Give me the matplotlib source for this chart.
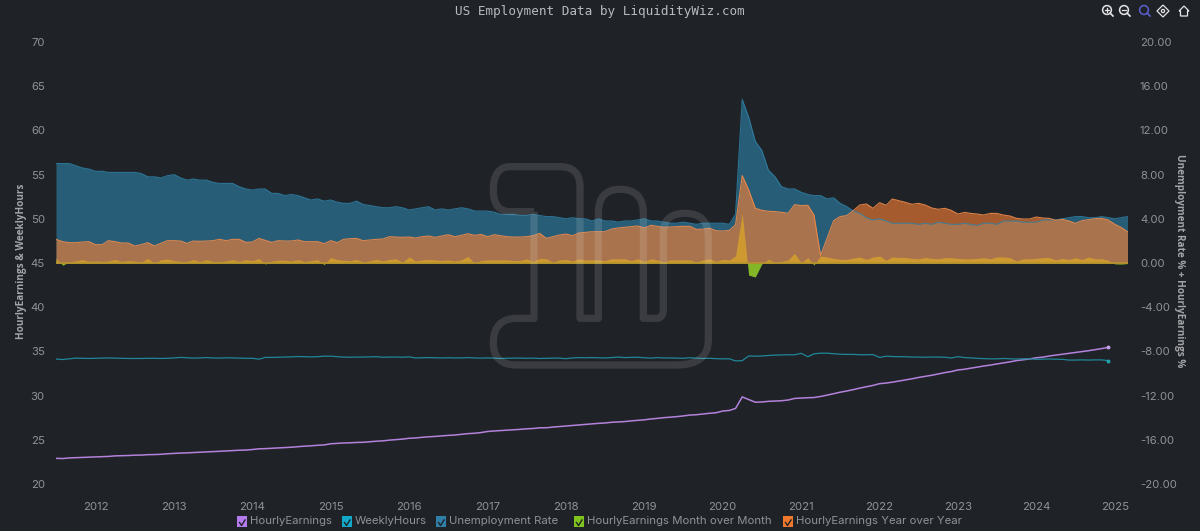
import matplotlib
matplotlib.use("Agg")
from matplotlib import pyplot as plt
from matplotlib.patches import Rectangle, Circle, PathPatch
from matplotlib.path import Path
import matplotlib.dates as mdates
import numpy as np
import pandas as pd

# monthly series, first value is July 2011
hourly_earnings = [
    22.90, 22.88, 22.95, 22.98, 23.00, 23.05,
    23.08, 23.10, 23.12, 23.18, 23.20, 23.22, 23.26, 23.27, 23.32, 23.33, 23.36, 23.42,
    23.46, 23.50, 23.52, 23.56, 23.60, 23.63, 23.66, 23.70, 23.74, 23.78, 23.82, 23.84,
    23.90, 23.98, 24.00, 24.04, 24.08, 24.12, 24.16, 24.22, 24.28, 24.32, 24.38, 24.42,
    24.55, 24.60, 24.64, 24.66, 24.70, 24.72, 24.78, 24.84, 24.88, 24.96, 25.02, 25.08,
    25.17, 25.21, 25.28, 25.34, 25.38, 25.44, 25.50, 25.54, 25.62, 25.70, 25.74, 25.82,
    25.94, 26.00, 26.04, 26.08, 26.12, 26.18, 26.24, 26.28, 26.36, 26.36, 26.44, 26.50,
    26.56, 26.62, 26.68, 26.74, 26.80, 26.86, 26.90, 26.98, 27.02, 27.06, 27.14, 27.20,
    27.26, 27.36, 27.42, 27.50, 27.56, 27.62, 27.70, 27.80, 27.84, 27.92, 28.00, 28.06,
    28.25, 28.32, 28.55, 29.85, 29.55, 29.25, 29.28, 29.35, 29.38, 29.42, 29.50, 29.68,
    29.72, 29.76, 29.78, 29.90, 30.05, 30.22, 30.38, 30.52, 30.68, 30.85, 31.00, 31.15,
    31.35, 31.42, 31.52, 31.65, 31.78, 31.90, 32.05, 32.18, 32.30, 32.45, 32.60, 32.72,
    32.90, 32.98, 33.10, 33.22, 33.35, 33.45, 33.58, 33.70, 33.82, 33.96, 34.05, 34.15,
    34.28, 34.35, 34.48, 34.58, 34.68, 34.78, 34.88, 34.98, 35.08, 35.20, 35.32, 35.46,
]
weekly_hours = [
    34.14, 34.08, 34.16, 34.24, 34.22, 34.20,
    34.22, 34.24, 34.26, 34.24, 34.22, 34.20, 34.20, 34.20, 34.22, 34.22, 34.20, 34.22,
    34.26, 34.32, 34.28, 34.24, 34.26, 34.30, 34.26, 34.24, 34.28, 34.26, 34.24, 34.22,
    34.22, 34.12, 34.32, 34.32, 34.34, 34.36, 34.38, 34.42, 34.40, 34.38, 34.40, 34.46,
    34.46, 34.40, 34.36, 34.34, 34.36, 34.36, 34.38, 34.40, 34.34, 34.36, 34.36, 34.34,
    34.38, 34.26, 34.28, 34.30, 34.28, 34.26, 34.28, 34.26, 34.26, 34.30, 34.26, 34.24,
    34.26, 34.24, 34.20, 34.22, 34.24, 34.24, 34.22, 34.24, 34.20, 34.22, 34.24, 34.24,
    34.18, 34.26, 34.30, 34.28, 34.30, 34.28, 34.26, 34.30, 34.36, 34.30, 34.32, 34.34,
    34.28, 34.24, 34.30, 34.26, 34.26, 34.24, 34.22, 34.28, 34.24, 34.20, 34.22, 34.18,
    34.16, 34.16, 33.92, 33.96, 34.48, 34.46, 34.48, 34.54, 34.58, 34.60, 34.62, 34.62,
    34.78, 34.40, 34.72, 34.80, 34.80, 34.74, 34.68, 34.66, 34.66, 34.62, 34.62, 34.64,
    34.32, 34.46, 34.42, 34.40, 34.40, 34.36, 34.36, 34.34, 34.36, 34.36, 34.34, 34.26,
    34.40, 34.30, 34.26, 34.22, 34.18, 34.16, 34.16, 34.20, 34.16, 34.14, 34.16, 34.16,
    34.10, 34.12, 34.14, 34.12, 34.10, 34.02, 34.02, 34.04, 34.02, 34.04, 34.04, 33.96,
]
unemployment = [
    9.0, 9.0, 9.0, 8.8, 8.6, 8.5,
    8.3, 8.3, 8.2, 8.2, 8.2, 8.2, 8.2, 8.1, 7.8, 7.8, 7.7, 7.9,
    8.0, 7.7, 7.5, 7.6, 7.5, 7.5, 7.3, 7.2, 7.2, 7.2, 6.9, 6.7,
    6.6, 6.7, 6.7, 6.3, 6.3, 6.1, 6.2, 6.1, 5.9, 5.7, 5.8, 5.6,
    5.7, 5.5, 5.4, 5.4, 5.6, 5.3, 5.2, 5.1, 5.0, 5.0, 5.1, 5.0,
    4.8, 4.9, 5.0, 5.1, 4.8, 4.9, 4.8, 4.9, 5.0, 4.9, 4.7, 4.7,
    4.7, 4.6, 4.4, 4.4, 4.4, 4.3, 4.3, 4.4, 4.3, 4.2, 4.2, 4.1,
    4.0, 4.1, 4.0, 4.0, 3.8, 4.0, 3.8, 3.8, 3.7, 3.8, 3.8, 3.9,
    4.0, 3.8, 3.8, 3.7, 3.6, 3.6, 3.7, 3.6, 3.5, 3.6, 3.6, 3.6,
    3.6, 3.5, 4.4, 14.8, 13.2, 11.0, 10.2, 8.4, 7.8, 6.9, 6.7, 6.7,
    6.4, 6.2, 6.1, 6.1, 5.8, 5.9, 5.4, 5.1, 4.7, 4.5, 4.1, 3.9,
    4.0, 3.8, 3.6, 3.6, 3.6, 3.6, 3.5, 3.6, 3.5, 3.7, 3.6, 3.5,
    3.5, 3.6, 3.5, 3.4, 3.6, 3.6, 3.5, 3.8, 3.8, 3.8, 3.7, 3.7,
    3.7, 3.9, 3.9, 3.9, 4.0, 4.1, 4.2, 4.2, 4.1, 4.1, 4.2, 4.1,
    4.0, 4.1, 4.2,
]
earnings_mom = [
    .45, -.2, .1, .2, .3, .15, .18, .15, .18, .32, .15, .22, .18, .08, .42, -.05, .3, .35,
    .22, .14, .14, .3, .14, .3, .14, .14, .18, .3, .15, .3, .22, .4, -.1, .18, .25, .25,
    .18, .3, .14, .22, .3, -.15, .5, .3, .25, .2, .32, .1, .2, .32, .2, .32,
    .38, .06, .55, .18, .28, .32, .28, .22, .28, .18, .28, .6, -.03, .22, .28, .28, .28, .28,
    .22, .22, .38, .15, .42, .38, .08, .28, .32, .18, .38, .28, .28, .28, .22, .38, .38, .38,
    .22, .38, .15, .38, .28, .1, .28, .28, .28, .28, .1, .28, .38, .15, .32, .28, .65, 4.5,
    -1.1, -1.27, -.1, .33, .05, .15, .27, .88, .03, .48, -.18, .63, .54, .42, .33, .33, .45, .54,
    .33, .54, .63, .25, .55, .5, .5, .42, .38, .5, .42, .38, .48, .48, .42, .38, .38, .42,
    .48, .38, .55, .55, .48, .18, .38, .38, .42, .48, .5, .28, .42, .32, .48, .32, .55, .38,
    .38, .25, -.08, -.1, -.05,
]
earnings_yoy = [
    2.14, 1.93, 1.84, 1.84, 1.90, 1.93, 1.66, 1.66, 2.02, 1.93, 1.81, 1.81, 1.54, 1.66, 1.84, 1.54, 1.78, 2.02,
    2.02, 1.99, 1.78, 1.99, 1.96, 1.99, 2.02, 2.14, 2.02, 2.14, 2.14, 1.87, 1.90, 2.23, 2.05, 1.87, 2.02, 1.99,
    1.99, 2.08, 1.93, 1.93, 1.93, 1.75, 2.02, 1.84, 2.14, 2.20, 2.23, 2.02, 2.08, 2.14, 2.17, 2.38,
    2.35, 2.32, 2.35, 2.26, 2.38, 2.44, 2.32, 2.44, 2.56, 2.38, 2.50, 2.65, 2.50, 2.59, 2.38, 2.56, 2.47, 2.38,
    2.35, 2.35, 2.38, 2.47, 2.68, 2.23, 2.38, 2.53, 2.62, 2.47, 2.71, 2.77, 2.83, 2.83, 2.83, 3.07, 3.17, 3.23,
    3.29, 3.35, 3.17, 3.41, 3.32, 3.23, 3.26, 3.29, 3.32, 3.32, 3.04, 3.07, 3.14, 2.92, 2.89, 2.95, 3.45, 7.91,
    6.61, 4.95, 4.77, 4.68, 4.65, 4.59, 4.50, 5.28, 5.19, 5.22, 4.35, 0.67, 2.23, 3.83, 4.20, 4.29, 4.74, 5.25,
    5.34, 4.95, 5.46, 5.22, 5.79, 5.64, 5.49, 5.31, 5.40, 5.25, 4.98, 4.86, 4.95, 4.76, 4.43, 4.58, 4.49, 4.43,
    4.34, 4.49, 4.49, 4.34, 4.25, 4.04, 3.98, 3.98, 4.16, 4.07, 4.04, 3.86, 3.95, 3.80, 3.59, 3.83, 3.92, 4.01,
    4.04, 3.89, 3.50, 3.20, 2.83,
]

left_ticks = [20, 25, 30, 35, 40, 45, 50, 55, 60, 65, 70]
right_ticks = [-20, -16, -12, -8, -4, 0, 4, 8, 12, 16, 20]
legend_names = ["HourlyEarnings", "WeeklyHours", "Unemployment Rate",
                "HourlyEarnings Month over Month", "HourlyEarnings Year over Year"]
legend_colors = ["#b57bee", "#12a9c9", "#2f7fa8", "#7fc31c", "#f0772b"]

BG = "#1f2227"
TICK = "#8f9296"
FONT = ["Inter", "DejaVu Sans"]

months_long = pd.date_range("2011-07-01", periods=len(unemployment), freq="MS")
months_short = months_long[:len(hourly_earnings)]

fig = plt.figure(figsize=(12, 5.31), dpi=100, facecolor=BG)
ax = fig.add_axes([56 / 1200, 1 - 484 / 531, (1127.5 - 56) / 1200, (484 - 42) / 531])
ax.set_facecolor(BG)
axr = ax.twinx()

# percentage areas on the right axis
axr.fill_between(months_long, unemployment, 0, color="#2f86ad", alpha=0.6, lw=0)
axr.plot(months_long, unemployment, color="#2f86ad", lw=0.8, alpha=0.8)
axr.fill_between(months_long, earnings_mom, 0, color="#8fc828", alpha=0.9, lw=0)
axr.fill_between(months_long, earnings_yoy, 0, color="#ff8232", alpha=0.6, lw=0)
axr.plot(months_long, earnings_yoy, color="#f08a4a", lw=0.8, alpha=0.9)
axr.plot([months_long[0], months_long[-1]], [0, 0], color="#b8952c", lw=1.2)

# level lines on the left axis, above the areas
ax.set_zorder(axr.get_zorder() + 1)
ax.patch.set_visible(False)
axr.patch.set_facecolor(BG)
axr.patch.set_visible(True)
ax.plot(months_short, hourly_earnings, color="#b482dc", lw=1.1)
ax.plot(months_short, weekly_hours, color="#1f8798", lw=0.9)
ax.plot(months_short[-1], hourly_earnings[-1], "o", ms=1.8, color="#c9a0e8")
ax.plot(months_short[-1], weekly_hours[-1], "o", ms=1.8, color="#1fa5a8")

ax.set_xlim(pd.Timestamp("2011-07-01"), pd.Timestamp("2025-03-01"))
ax.set_ylim(20, 70)
axr.set_ylim(-20, 20)
ax.set_yticks(left_ticks)
axr.set_yticks(right_ticks)
axr.set_yticklabels(["%.2f" % t for t in right_ticks])
ax.xaxis.set_major_locator(mdates.YearLocator())
ax.xaxis.set_major_formatter(mdates.DateFormatter("%Y"))

for a in (ax, axr):
    for s in a.spines.values():
        s.set_visible(False)
    a.tick_params(length=0, labelsize=8.2, labelcolor=TICK)
    for lab in a.get_xticklabels() + a.get_yticklabels():
        lab.set_family(FONT)
ax.tick_params(axis="x", pad=13)
ax.tick_params(axis="y", pad=8)
axr.tick_params(axis="y", pad=9)

# overlay in pixel coordinates for the furniture around the plot
ov = fig.add_axes([0, 0, 1, 1], zorder=10)
ov.set_xlim(0, 1200)
ov.set_ylim(531, 0)
ov.axis("off")
ov.patch.set_visible(False)

ov.text(600, 11, "US Employment Data by LiquidityWiz.com", ha="center", va="center",
        color="#b8babd", fontsize=9.1, family="DejaVu Sans Mono")
ov.text(22, 261, "HourlyEarnings & WeeklyHours", rotation=90, ha="center", va="center",
        color="#a4a6a9", fontsize=7.2, fontweight="bold", family="Open Sans")
ov.text(1180, 261, "Unemployment Rate % + HourlyEarnings %", rotation=270, ha="center", va="center",
        color="#a4a6a9", fontsize=7.2, fontweight="bold", family="Open Sans")

# logo outline behind the data
M, L, C = Path.MOVETO, Path.LINETO, Path.CURVE3
logo = [
    (222, 185, M), (150, 185, L), (100, 185, C), (100, 120, C), (100, 50, C), (150, 50, C),
    (300, 50, L), (360, 50, C), (360, 110, C), (360, 505, L), (415, 505, L), (415, 190, L),
    (415, 118, C), (480, 118, C), (550, 118, C), (550, 190, C), (550, 505, L), (590, 505, L),
    (610, 505, C), (610, 480, C), (610, 250, L), (610, 190, C), (675, 190, C), (745, 190, C),
    (745, 260, C), (745, 570, L), (745, 645, C), (650, 645, C), (170, 645, L), (100, 645, C),
    (100, 580, C), (100, 505, C), (170, 505, C), (222, 505, L), (222, 185, L),
]
logo_xy = [(460 + p[0] / 3, 150 + p[1] / 3) for p in logo]
ov.add_patch(PathPatch(Path(logo_xy, [p[2] for p in logo]), fill=False, ec="#ffffff",
                       alpha=0.12, lw=5.2, joinstyle="round"))

# legend with the checked swatches
legend_x = [237, 342, 436, 574, 783]
for name, col, x0 in zip(legend_names, legend_colors, legend_x):
    ov.add_patch(Rectangle((x0, 516), 9.5, 10.5, fc=col, ec="none"))
    ov.plot([x0 + 2.5, x0 + 4.5, x0 + 8], [522.5, 525.5, 520], color="#1f2227", lw=1)
    ov.text(x0 + 13, 521.5, name, ha="left", va="center", color=TICK, fontsize=8.2, family=FONT)

# toolbar icons, top right
ic = "#e4e5e6"
for cx, col in ((1107, ic), (1124, ic), (1144, "#5b5fd0")):
    ov.add_patch(Circle((cx, 10), 4.4, fill=False, ec=col, lw=1.1))
    ov.plot([cx + 3.2, cx + 6], [13.2, 16], color=col, lw=1.2)
ov.plot([1104.8, 1109.2], [10, 10], color=ic, lw=0.9)
ov.plot([1107, 1107], [7.8, 12.2], color=ic, lw=0.9)
ov.plot([1121.8, 1126.2], [10, 10], color=ic, lw=0.9)
ov.add_patch(Circle((1163, 11), 1.6, fill=False, ec=ic, lw=0.9))
ov.add_patch(PathPatch(Path([(1163, 5), (1169, 11), (1163, 17), (1157, 11), (1163, 5)]),
                       fill=False, ec=ic, lw=0.9))
ov.add_patch(PathPatch(Path([(1179, 11), (1184, 6), (1189, 11), (1187.5, 11), (1187.5, 16),
                             (1180.5, 16), (1180.5, 11), (1179, 11)]), fill=False, ec=ic, lw=0.9))

fig.savefig("out.png", dpi=100, facecolor=BG)
